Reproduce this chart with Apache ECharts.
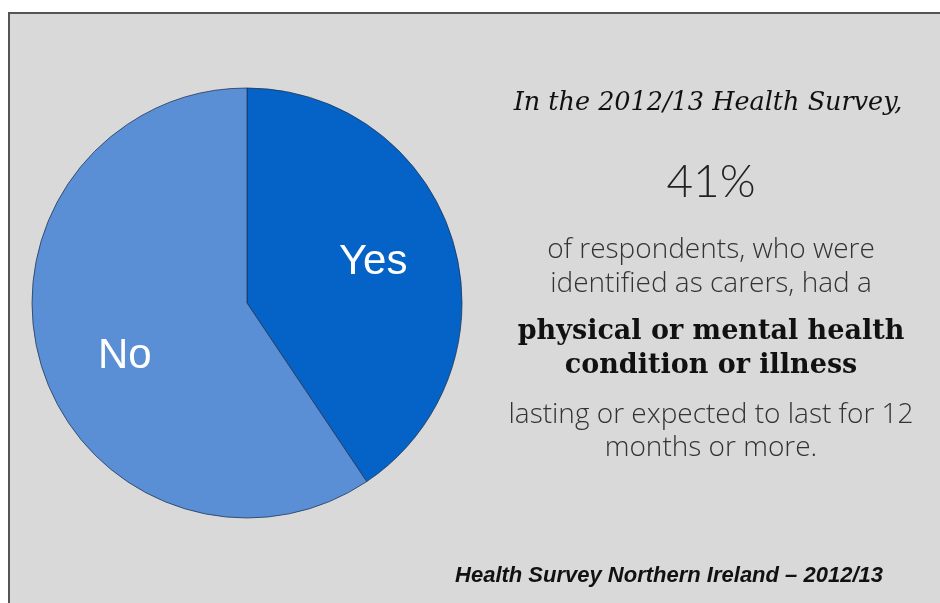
<!DOCTYPE html>
<html>
<head>
<meta charset="utf-8">
<script src="https://cdn.jsdelivr.net/npm/echarts@6/dist/echarts.min.js"></script>
<style>
html,body{margin:0;padding:0;background:#ffffff;}
#chart{width:940px;height:603px;}
</style>
</head>
<body>
<div id="chart"></div>
<script>
// Data
var categories = ['Yes', 'No'];
var values = [40.6, 59.4];
var sliceColors = ['#0563C8', '#5A8FD6'];

var headline = 'In the 2012/13 Health Survey';
var bigFigure = '41%';
var bodyLines1 = ['of respondents, who were', 'identified as carers, had a'];
var boldLines = ['physical or mental health', 'condition or illness'];
var bodyLines2 = ['lasting or expected to last for 12', 'months or more.'];
var sourceText = 'Health Survey Northern Ireland \u2013 2012/13';

var chart = echarts.init(document.getElementById('chart'));

var pieData = categories.map(function (c, i) {
  return { name: c, value: values[i], itemStyle: { color: sliceColors[i] } };
});
var labelOffsets = [[-3, -1], [7, 14]];
var labelData = categories.map(function (c, i) {
  return { name: c, value: values[i], label: { offset: labelOffsets[i] } };
});

var cx = 711;
var bodyFont = '300 28px "Open Sans"';

function textEl(text, x, y, style) {
  return {
    type: 'text', x: x, y: y, silent: true,
    style: Object.assign({ text: text, textAlign: 'center', textVerticalAlign: 'middle' }, style)
  };
}

var graphics = [
  { type: 'rect', shape: { x: 9, y: 13, width: 940, height: 600 },
    style: { fill: '#D9D9D9', stroke: '#555555', lineWidth: 2 }, silent: true, z: -10 },
  textEl(headline + ',', cx - 3, 103, { font: 'italic 25.5px "DejaVu Serif"', fill: '#111111' }),
  textEl(bigFigure, cx, 182, { font: '300 46px Lato', fill: '#222222' }),
  textEl(bodyLines1[0], cx, 250, { font: bodyFont, fill: '#333333' }),
  textEl(bodyLines1[1], cx, 284, { font: bodyFont, fill: '#333333' }),
  textEl(boldLines[0], cx, 332, { font: 'bold 27px "DejaVu Serif"', fill: '#111111' }),
  textEl(boldLines[1], cx, 366, { font: 'bold 27px "DejaVu Serif"', fill: '#111111' }),
  textEl(bodyLines2[0], cx, 415, { font: bodyFont, fill: '#333333' }),
  textEl(bodyLines2[1], cx, 448, { font: bodyFont, fill: '#333333' }),
  textEl(sourceText, 669, 576, { font: 'italic bold 22px "Liberation Sans"', fill: '#111111' })
];

chart.setOption({
  backgroundColor: '#ffffff',
  animation: false,
  graphic: graphics,
  series: [
    {
      type: 'pie',
      center: [247, 303],
      radius: [0, 215],
      startAngle: 90,
      clockwise: true,
      silent: true,
      label: { show: false },
      labelLine: { show: false },
      itemStyle: { borderColor: 'rgba(30,50,80,0.75)', borderWidth: 1 },
      data: pieData
    },
    {
      type: 'pie',
      center: [247, 303],
      radius: [0, 264],
      startAngle: 90,
      clockwise: true,
      silent: true,
      z: 5,
      itemStyle: { color: 'rgba(0,0,0,0)' },
      label: {
        show: true, position: 'inside', formatter: '{b}',
        color: '#ffffff', fontFamily: 'Liberation Sans', fontSize: 42
      },
      labelLine: { show: false },
      data: labelData
    }
  ]
});
</script>
</body>
</html>
